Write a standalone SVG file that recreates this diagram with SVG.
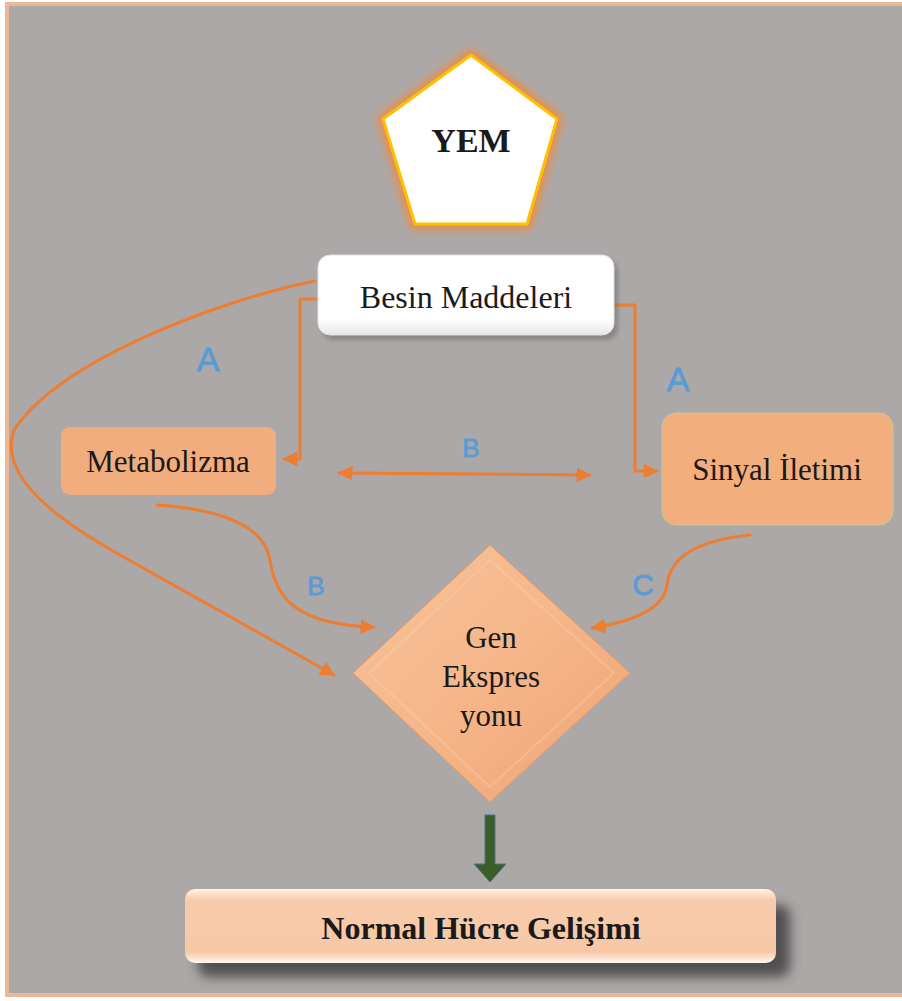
<svg xmlns="http://www.w3.org/2000/svg" width="902" height="1001" viewBox="0 0 902 1001">
<defs>
<style>
.conn{fill:none;stroke:#ed7d31;stroke-width:3;stroke-linecap:round;stroke-linejoin:round}
.lbl{font-family:"Liberation Sans","DejaVu Sans",sans-serif;fill:#5b9bd5;text-anchor:middle;stroke:#5b9bd5;stroke-width:0.8}
.txt{font-family:"Liberation Serif","Times New Roman",serif;fill:#1a1a1a;text-anchor:middle}
.bold{font-weight:bold}
</style>
<marker id="ah" viewBox="0 0 10 10" refX="9" refY="5" markerWidth="5" markerHeight="5" orient="auto-start-reverse" markerUnits="strokeWidth">
<path d="M0,0 L10,5 L0,10 z" fill="#ed7d31"/>
</marker>
<filter id="glow" x="-20%" y="-20%" width="140%" height="140%">
<feGaussianBlur stdDeviation="4"/>
</filter>
<filter id="shadow" x="-10%" y="-20%" width="130%" height="180%">
<feGaussianBlur stdDeviation="6"/>
</filter>
<filter id="sshadow" x="-10%" y="-20%" width="130%" height="160%">
<feGaussianBlur stdDeviation="2"/>
</filter>
<linearGradient id="whiteG" x1="0" y1="0" x2="0" y2="1">
<stop offset="0" stop-color="#ffffff"/>
<stop offset="0.8" stop-color="#ffffff"/>
<stop offset="1" stop-color="#e6e6e6"/>
</linearGradient>
<linearGradient id="diaG" x1="0" y1="0" x2="1" y2="1">
<stop offset="0" stop-color="#f8c39a"/>
<stop offset="0.5" stop-color="#f5b68a"/>
<stop offset="1" stop-color="#eea374"/>
</linearGradient>
<linearGradient id="normG" x1="0" y1="0" x2="0" y2="1">
<stop offset="0" stop-color="#fff3e6"/>
<stop offset="0.15" stop-color="#f8cbab"/>
<stop offset="0.85" stop-color="#f6c8a6"/>
<stop offset="1" stop-color="#fff8ef"/>
</linearGradient>
</defs>

<rect x="0" y="0" width="902" height="1001" fill="#ffffff"/>
<rect x="7" y="4" width="900" height="991" fill="#aca8a7" stroke="#eab897" stroke-width="4"/>

<g id="connectors">
<path class="conn" d="M300,299 L318,299 M300,299 L300,459 L284,459" marker-end="url(#ah)"/>
<path class="conn" d="M614,305 L635,305 L635,471 L657,471" marker-end="url(#ah)"/>
<path class="conn" d="M315,281 C220,300 60,360 14,430 C0,470 40,510 120,555 C200,600 280,645 334,675" marker-end="url(#ah)"/>
<path class="conn" d="M157,505 C230,510 265,530 270,560 C275,600 300,625 374,627" marker-end="url(#ah)"/>
<path class="conn" d="M339,473 L590,475" marker-start="url(#ah)" marker-end="url(#ah)"/>
<path class="conn" d="M750,535 C700,540 670,555 667,585 C664,610 630,622 592,628" marker-end="url(#ah)"/>
<g id="green-arrow">
<path d="M485,815 L495,815 L495,864 L506,864 L490,882 L474,864 L485,864 z" fill="#3b5e26" stroke="#4f6f8f" stroke-width="1"/>
</g>
</g>

<g id="labels">
<text class="lbl" x="208" y="371" font-size="34">A</text>
<text class="lbl" x="678" y="391" font-size="34">A</text>
<text class="lbl" x="471" y="457" font-size="26">B</text>
<text class="lbl" x="316" y="595" font-size="26">B</text>
<text class="lbl" x="643" y="595" font-size="30">C</text>
</g>

<g id="yem">
<polygon points="471,55 557,119 527,224 415,224 383,119" fill="none" stroke="#f08a3c" stroke-width="10" filter="url(#glow)"/>
<polygon points="471,55 557,119 527,224 415,224 383,119" fill="#ffffff" stroke="#ffc000" stroke-width="3" stroke-linejoin="round"/>
<text class="txt bold" x="471" y="152" font-size="34">YEM</text>
</g>

<g id="besin">
<rect x="322" y="260" width="296" height="80" rx="12" fill="#555" opacity="0.4" filter="url(#sshadow)"/>
<rect x="318" y="255" width="296" height="80" rx="12" fill="url(#whiteG)" stroke="#e0e0e0" stroke-width="1"/>
<text class="txt" x="466" y="308" font-size="32">Besin Maddeleri</text>
</g>

<g id="metabolizma">
<rect x="61" y="427" width="215" height="68" rx="9" fill="#f2ad7e"/>
<text class="txt" x="168" y="472" font-size="31">Metabolizma</text>
</g>

<g id="sinyal">
<rect x="662" y="413" width="231" height="112" rx="14" fill="#f3ae7e" stroke="#c8c89a" stroke-width="1"/>
<text class="txt" x="777" y="480" font-size="31">Sinyal İletimi</text>
</g>

<g id="gen">
<polygon points="490,545 630,673 490,802 353,673" fill="url(#diaG)" stroke="#e49a68" stroke-width="1"/>
<polygon points="490,560 614,673 490,787 369,673" fill="none" stroke="#fbd2b0" stroke-width="2" opacity="0.35"/>
<text class="txt" x="491" y="648" font-size="31">Gen</text>
<text class="txt" x="491" y="687" font-size="31">Ekspres</text>
<text class="txt" x="491" y="726" font-size="31">yonu</text>
</g>

<g id="normal">
<rect x="198" y="905" width="592" height="72" rx="10" fill="#333" opacity="0.75" filter="url(#shadow)"/>
<rect x="185" y="889" width="591" height="74" rx="10" fill="url(#normG)"/>
<text class="txt bold" x="481" y="939" font-size="32">Normal Hücre Gelişimi</text>
</g>
</svg>
